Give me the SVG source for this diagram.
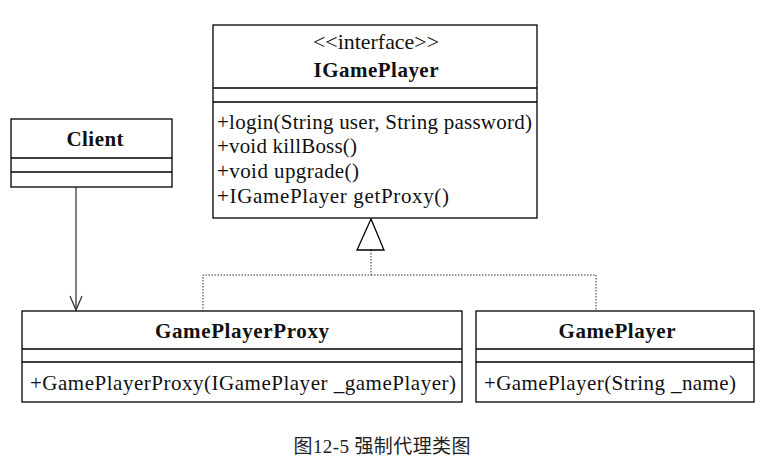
<svg xmlns="http://www.w3.org/2000/svg" width="767" height="467" viewBox="0 0 767 467">
<style>
.box{fill:#fff;stroke:#000;stroke-width:1.3}
.ln{stroke:#000;stroke-width:1.3}
.t{font-family:"Liberation Serif","Times New Roman",serif;font-size:21px;fill:#111}
.b{font-weight:bold;text-anchor:middle}
.c{text-anchor:middle}
.dot{fill:none;stroke:#333;stroke-width:1;stroke-dasharray:1.5 1.5}
</style>
<rect width="767" height="467" fill="#fff"/>
<g id="connectors">
<polyline class="dot" points="371,250 371,275 203,275 203,311"/>
<polyline class="dot" points="371,275 596,275 596,311"/>
<polygon points="371,219 357,250 384,250" fill="#fff" stroke="#000" stroke-width="1.3"/>
<line x1="76" y1="187" x2="76" y2="310" stroke="#555" stroke-width="1.5"/>
<polyline points="70,296 76,310 82,296" fill="none" stroke="#333" stroke-width="1.3"/>
</g>
<g id="IGamePlayer">
<rect class="box" x="213" y="25" width="324" height="193"/>
<line class="ln" x1="213" y1="88" x2="537" y2="88"/>
<line class="ln" x1="213" y1="102" x2="537" y2="102"/>
<text class="t c" x="376" y="49" textLength="126" lengthAdjust="spacingAndGlyphs">&lt;&lt;interface&gt;&gt;</text>
<text class="t b" x="376" y="77" textLength="125" lengthAdjust="spacing">IGamePlayer</text>
<text class="t" x="217" y="129" textLength="315" lengthAdjust="spacing">+login(String user, String password)</text>
<text class="t" x="217" y="153" textLength="140" lengthAdjust="spacing">+void killBoss()</text>
<text class="t" x="217" y="178" textLength="142" lengthAdjust="spacing">+void upgrade()</text>
<text class="t" x="217" y="203" textLength="232" lengthAdjust="spacing">+IGamePlayer getProxy()</text>
</g>
<g id="Client">
<rect class="box" x="11" y="119" width="161" height="68"/>
<line class="ln" x1="11" y1="158" x2="172" y2="158"/>
<line class="ln" x1="11" y1="172" x2="172" y2="172"/>
<text class="t b" x="95" y="146" textLength="57" lengthAdjust="spacing">Client</text>
</g>
<g id="GamePlayerProxy">
<rect class="box" x="22" y="311" width="440" height="91"/>
<line class="ln" x1="22" y1="349" x2="462" y2="349"/>
<line class="ln" x1="22" y1="362" x2="462" y2="362"/>
<text class="t b" x="242" y="338" textLength="174" lengthAdjust="spacing">GamePlayerProxy</text>
<text class="t" x="30" y="390" textLength="426" lengthAdjust="spacing">+GamePlayerProxy(IGamePlayer _gamePlayer)</text>
</g>
<g id="GamePlayer">
<rect class="box" x="476" y="311" width="278" height="91"/>
<line class="ln" x1="476" y1="349" x2="754" y2="349"/>
<line class="ln" x1="476" y1="362" x2="754" y2="362"/>
<text class="t b" x="617" y="338" textLength="117" lengthAdjust="spacing">GamePlayer</text>
<text class="t" x="484" y="390" textLength="252" lengthAdjust="spacing">+GamePlayer(String _name)</text>
</g>
<text x="382" y="453" text-anchor="middle" textLength="177" lengthAdjust="spacing" style="font-family:'Liberation Serif','Noto Sans CJK SC',serif;font-size:19px;fill:#222">图12-5 强制代理类图</text>
</svg>
